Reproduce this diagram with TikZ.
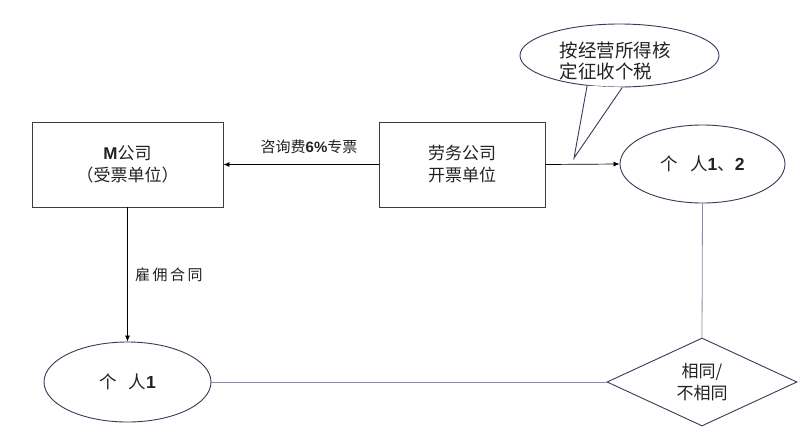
\documentclass[tikz,border=0pt]{standalone}
\usepackage{fontspec}
\setmainfont{Noto Sans CJK SC}
\newfontfamily\lat{Liberation Sans}
\usetikzlibrary{shapes.geometric,arrows.meta}
\definecolor{boxc}{HTML}{3C3C3C}
\definecolor{ellc}{HTML}{3A3A58}
\definecolor{linec}{HTML}{8C8C9C}
\definecolor{txtc}{HTML}{222222}
\begin{document}
\begin{tikzpicture}[x=1pt,y=-1pt,
  box/.style={draw=boxc,line width=0.9pt,align=center,inner sep=0pt,text=txtc,
    font=\fontsize{17}{22}\selectfont},
  oval/.style={ellipse,draw=ellc,line width=0.9pt,inner sep=0pt,text=txtc,
    font=\fontsize{17.5}{22}\selectfont},
  arr/.style={draw=black,line width=0.7pt,-{Latex[length=6pt,width=5pt]}},
  conn/.style={draw=linec,line width=0.8pt},
  lbl/.style={font=\fontsize{15}{18}\selectfont,inner sep=0pt,text=txtc}
]
\useasboundingbox (0,0) rectangle (809,440);
\fill[white] (0,0) rectangle (809,440);

% boxes
\node[box,minimum width=191pt,minimum height=85pt] (m) at (127.5,164.5)
  {{\lat\bfseries M}公司\\（受票单位）};
\node[box,minimum width=166pt,minimum height=85pt] (lw) at (462,164.5)
  {劳务公司\\开票单位};

% ellipses
\node[oval,minimum width=165pt,minimum height=78pt] (p12) at (702.5,164)
  {个\hspace{12pt}人{\lat\bfseries 1}、{\lat\bfseries 2}};
\node[oval,minimum width=167pt,minimum height=80pt] (p1) at (127.5,382)
  {个\hspace{12pt}人{\lat\bfseries 1}};

% diamond
\node[diamond,draw=ellc,line width=0.9pt,aspect=2.16,inner sep=0pt,text=txtc,
  minimum width=190pt,minimum height=88pt,align=center,
  font=\fontsize{17}{22}\selectfont] (d) at (702,382) {相同/\\不相同};

% callout
\node[oval,fill=white,minimum width=199pt,minimum height=63pt] (co) at (619.5,55.5) {};
\coordinate (tip) at (574,158);
\filldraw[fill=white,draw=ellc,line width=0.9pt,line join=miter]
  (co.-137) -- (tip) -- (co.-85);
\node[align=left,inner sep=0pt,text=txtc,font=\fontsize{18.5}{21}\selectfont] (cot) at (615,61)
  {按经营所得核\\定征收个税};

% connectors
\draw[arr] (lw.west) -- (m.east);
\node[lbl] (l1) at (309,147) {咨询费{\lat\bfseries 6\%}专票};
\draw[arr] (lw.east) -- (p12.west);
\draw[arr] (m.south) -- (p1.north);
\node[lbl,anchor=west] (l2) at (135,275) {雇\,佣\,合\,同};
\draw[conn] (p1.east) -- (d.west);
\draw[conn] (p12.south) -- (d.north);
\end{tikzpicture}
\end{document}
